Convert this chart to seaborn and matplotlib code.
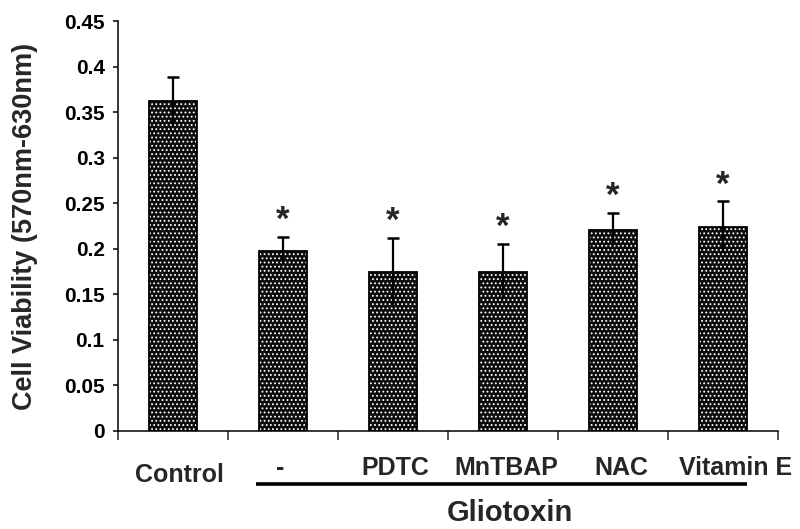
import matplotlib
matplotlib.use('Agg')
import matplotlib.pyplot as plt
from matplotlib.patches import Rectangle
from matplotlib.ticker import FuncFormatter, MultipleLocator
import matplotlib.transforms as mtransforms
import numpy as np
import pandas as pd
import seaborn as sns

# data
groups = ['Control', '-', 'PDTC', 'MnTBAP', 'NAC', 'Vitamin E']
viability = [0.362, 0.198, 0.174, 0.175, 0.221, 0.224]
sem = [0.027, 0.015, 0.038, 0.030, 0.018, 0.028]
marks = ['', '*', '*', '*', '*', '*']
treatment = 'Gliotoxin'

# label nudges (category units), baseline of each label in figure fraction
label_nudge = [0.055, -0.03, 0.02, 0.03, 0.08, 0.11]
label_base = [0.089, 0.102, 0.102, 0.102, 0.102, 0.102]

sns.set_theme(style='white')
plt.rcParams['font.family'] = ['Liberation Sans', 'DejaVu Sans']
plt.rcParams['font.weight'] = 'bold'
plt.rcParams['hatch.linewidth'] = 0.8

df = pd.DataFrame({'group': groups, 'value': viability})

fig = plt.figure(figsize=(8.0, 5.29), dpi=100, facecolor='white')
ax = fig.add_axes([0.1475, 0.1853, 0.825, 0.7750])

sns.barplot(data=df, x='group', y='value', color='#0c0c0c', width=0.43,
            saturation=1, ax=ax, errorbar=None)

# dotted fill + black outline
for p in list(ax.patches):
    p.set_hatch('....')
    p.set_edgecolor('white')
    p.set_linewidth(0)
    ax.add_patch(Rectangle(p.get_xy(), p.get_width(), p.get_height(),
                           fill=False, ec='black', lw=1.3, zorder=3))

x = np.arange(len(groups))
means = np.array(viability)
errs = np.array(sem)
ax.errorbar(x, means, yerr=errs, fmt='none', ecolor='black', elinewidth=1.6,
            capsize=0, zorder=4)
ax.plot(x, means + errs, ls='none', marker='_', ms=8, mew=1.8, color='black', zorder=4)

for i, m in enumerate(marks):
    if m:
        ax.annotate(m, (x[i], means[i] + errs[i]), xytext=(0, 5), textcoords='offset points',
                    ha='center', va='baseline', fontsize=25, fontweight='bold')

ax.set_ylim(0, 0.45)
ax.set_xlim(-0.5, len(groups) - 0.5)
ax.yaxis.set_major_locator(MultipleLocator(0.05))
ax.yaxis.set_major_formatter(FuncFormatter(lambda v, _: f'{v:g}'))
ax.set_xticks(np.arange(-0.5, len(groups), 1.0))
ax.set_xticklabels([])
ax.tick_params(axis='y', left=True, direction='out', length=3.6, width=1.1,
               labelsize=15, pad=6, colors='black')
ax.tick_params(axis='x', bottom=True, direction='out', length=6.5, width=1.1)
for lbl in ax.get_yticklabels():
    lbl.set_fontweight('bold')
ax.set_xlabel('')
ax.set_ylabel('')
sns.despine(ax=ax)
for s in ['left', 'bottom']:
    ax.spines[s].set_linewidth(1.1)
    ax.spines[s].set_color('black')

trans = mtransforms.blended_transform_factory(ax.transData, fig.transFigure)
for i, g in enumerate(groups):
    ax.text(x[i] + label_nudge[i], label_base[i], g, transform=trans, ha='center',
            va='baseline', fontsize=18, fontweight='bold', clip_on=False)

# bracket under the gliotoxin-treated groups
ax.plot([x[1] - 0.245, x[-1] + 0.22], [0.085, 0.085], transform=trans, color='black',
        lw=2.6, solid_capstyle='butt', clip_on=False)
ax.text(np.mean(x[1:]) + 0.06, 0.016, treatment, transform=trans, ha='center',
        va='baseline', fontsize=21, fontweight='bold')

fig.text(25 / 800, 1 - 226 / 529, 'Cell Viability (570nm-630nm)', rotation=90,
         ha='center', va='center', fontsize=19.5, fontweight='bold')

fig.savefig('out.png', dpi=100, facecolor='white')
